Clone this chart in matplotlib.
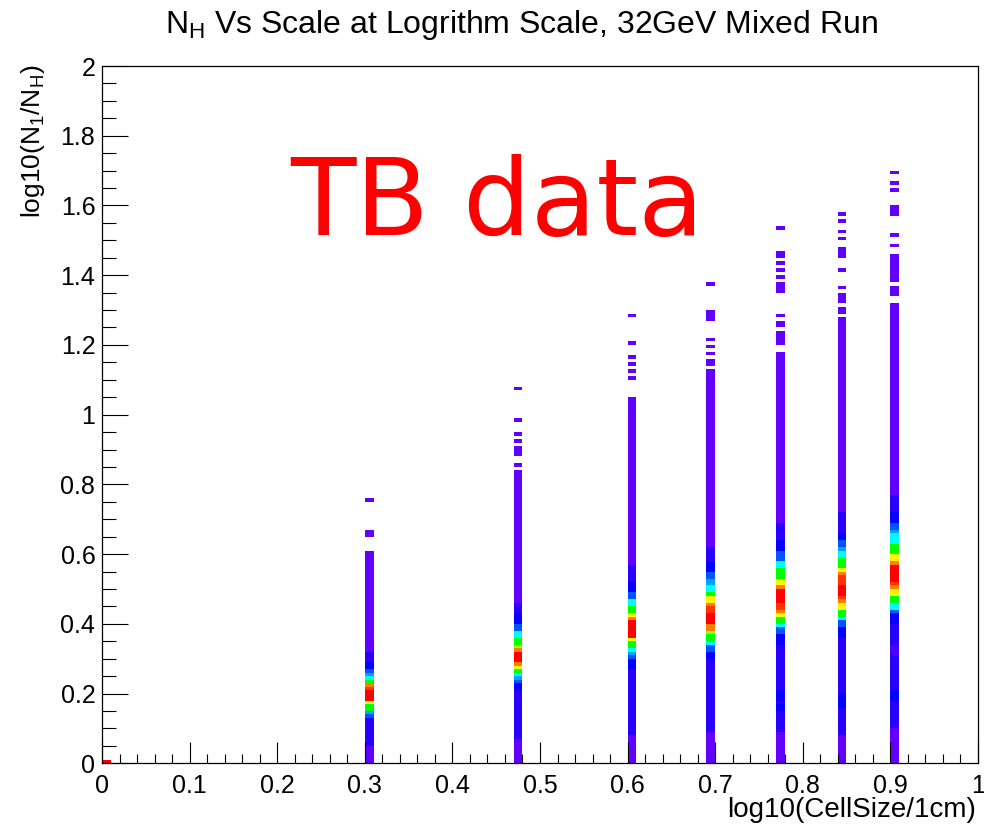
import colorsys
import numpy as np
import matplotlib
matplotlib.use("Agg")
import matplotlib.pyplot as plt
from matplotlib.colors import ListedColormap

plt.rcParams['font.family'] = ['Liberation Sans', 'DejaVu Sans']
plt.rcParams['mathtext.fontset'] = 'custom'
plt.rcParams['mathtext.rm'] = 'Liberation Sans'

# colour levels (percent of max bin content)
V, BV, B, A, S, C, G, YG, Y, O, RO, R = 1, 6, 9, 17, 24, 32, 55, 68, 78, 89, 95, 100

n_xbins, x_lo, x_hi = 100, 0.0, 1.0
n_ybins, y_lo, y_hi = 200, 0.0, 2.0

# x bin index of each filled column (log10 of cell size 2..8 cm) and its y runs (first bin, last bin, level)
col_bins = [30, 47, 60, 69, 77, 84, 90]

col_2cm = [(0, 4, V), (5, 12, BV), (13, 13, A), (14, 14, S), (15, 16, G), (17, 17, Y), (18, 20, R),
           (21, 21, RO), (22, 22, O), (23, 23, G), (24, 24, C), (25, 25, S), (26, 26, A), (27, 28, B),
           (29, 31, BV), (32, 60, V), (65, 66, V), (75, 75, V)]
col_3cm = [(0, 6, V), (7, 20, BV), (21, 22, B), (23, 23, A), (24, 24, S), (25, 25, C), (26, 26, G),
           (27, 27, Y), (28, 28, O), (29, 31, R), (32, 32, O), (33, 33, YG), (34, 35, G), (36, 37, C),
           (38, 39, A), (40, 42, B), (43, 45, BV), (46, 83, V), (85, 85, V), (88, 90, V), (92, 92, V),
           (94, 94, V), (98, 98, V), (107, 107, V)]
col_4cm = [(0, 7, V), (8, 26, BV), (27, 29, B), (30, 30, A), (31, 31, S), (32, 32, C), (33, 34, G),
           (35, 35, Y), (36, 40, R), (41, 41, O), (42, 42, Y), (43, 44, G), (45, 46, C), (47, 48, A),
           (49, 51, B), (52, 56, BV), (57, 104, V), (110, 110, V), (112, 112, V), (114, 114, V),
           (116, 116, V), (120, 120, V), (128, 128, V)]
col_5cm = [(0, 8, V), (9, 29, BV), (30, 31, B), (32, 33, A), (34, 34, C), (35, 36, G), (37, 37, YG),
           (38, 39, O), (40, 42, R), (43, 44, RO), (45, 45, O), (46, 47, Y), (48, 48, G), (49, 50, C),
           (51, 52, S), (53, 54, A), (55, 57, B), (58, 61, BV), (62, 112, V), (114, 115, V),
           (117, 117, V), (119, 119, V), (121, 121, V), (127, 129, V), (137, 137, V)]
col_6cm = [(0, 8, V), (9, 14, BV), (15, 16, B), (17, 17, BV), (18, 20, B), (21, 33, BV), (34, 36, B),
           (37, 38, A), (39, 39, C), (40, 41, G), (42, 42, Y), (43, 43, O), (44, 45, RO), (46, 49, R),
           (50, 50, O), (51, 52, Y), (53, 55, G), (56, 57, C), (58, 60, A), (61, 63, B), (64, 68, BV),
           (69, 117, V), (120, 123, V), (125, 126, V), (128, 128, V), (135, 137, V), (139, 139, V),
           (141, 141, V), (143, 143, V), (145, 146, V), (153, 153, V)]
col_7cm = [(0, 7, V), (8, 15, BV), (16, 19, B), (20, 35, BV), (36, 38, B), (39, 40, A), (41, 41, C),
           (42, 43, G), (44, 45, Y), (46, 46, O), (47, 47, RO), (48, 50, R), (51, 53, RO), (54, 54, O),
           (55, 55, Y), (56, 58, G), (59, 60, C), (61, 61, S), (62, 63, A), (64, 65, B), (66, 71, BV),
           (72, 127, V), (129, 130, V), (132, 134, V), (136, 136, V), (141, 141, V), (145, 147, V),
           (150, 150, V), (152, 152, V), (155, 155, V), (157, 157, V)]
col_8cm = [(0, 9, V), (10, 17, BV), (18, 20, B), (21, 30, BV), (31, 33, 3), (34, 39, BV), (40, 42, B),
           (43, 43, A), (44, 45, C), (46, 47, G), (48, 49, Y), (50, 50, O), (51, 51, RO), (52, 56, R),
           (57, 57, O), (58, 59, Y), (60, 62, G), (63, 65, C), (66, 66, S), (67, 68, A), (69, 71, B),
           (72, 76, BV), (77, 131, V), (134, 136, V), (138, 145, V), (148, 148, V), (151, 151, V),
           (157, 159, V), (164, 164, V), (166, 166, V), (169, 169, V)]
col_runs = [col_2cm, col_3cm, col_4cm, col_5cm, col_6cm, col_7cm, col_8cm]

# single-cell reference point at the origin
origin_bin = (0, 0, R)

H = np.zeros((n_ybins, n_xbins))
for xb, runs in zip(col_bins, col_runs):
    for y0, y1, z in runs:
        H[y0:y1 + 1, xb] = z
H[origin_bin[1], origin_bin[0]] = origin_bin[2]
H = np.ma.masked_equal(H, 0)

# ROOT "pretty" palette: HLS hue scan violet -> red
hues = np.linspace(265, 0, 256)
cmap = ListedColormap([colorsys.hls_to_rgb(h / 360.0, 0.5, 1.0) for h in hues])

xe = np.linspace(x_lo, x_hi, n_xbins + 1)
ye = np.linspace(y_lo, y_hi, n_ybins + 1)

fig = plt.figure(figsize=(9.84, 8.27), dpi=100)
ax = fig.add_axes([102.3 / 984, 63.7 / 827, 875.4 / 984, 697.3 / 827])
ax.pcolormesh(xe, ye, H, cmap=cmap, vmin=0, vmax=100, shading='flat')

ax.set_xlim(0, 1)
ax.set_ylim(0, 2)
ax.set_xticks(np.arange(0, 1.01, 0.1))
ax.set_xticks(np.arange(0, 1.001, 0.02), minor=True)
ax.set_yticks(np.arange(0, 2.01, 0.2))
ax.set_yticks(np.arange(0, 2.001, 0.05), minor=True)
ax.set_xticklabels(['0', '0.1', '0.2', '0.3', '0.4', '0.5', '0.6', '0.7', '0.8', '0.9', '1'])
ax.set_yticklabels(['0', '0.2', '0.4', '0.6', '0.8', '1', '1.2', '1.4', '1.6', '1.8', '2'])
ax.tick_params(axis='x', which='major', direction='in', length=15, width=0.8, labelsize=18, pad=8)
ax.tick_params(axis='x', which='minor', direction='in', length=6.7, width=0.8)
ax.tick_params(axis='y', which='major', direction='in', length=18.7, width=0.8, labelsize=18, pad=5)
ax.tick_params(axis='y', which='minor', direction='in', length=10.3, width=0.8)
for sp in ax.spines.values():
    sp.set_linewidth(0.9)

fig.text(0.53, 1 - 33 / 827, r'N$_{\mathrm{H}}$ Vs Scale at Logrithm Scale, 32GeV Mixed Run',
         ha='center', va='baseline', fontsize=23)
fig.text(33 / 984, 1 - 64 / 827, r'log10(N$_{\mathrm{1}}$/N$_{\mathrm{H}}$)', rotation=90,
         ha='center', va='top', fontsize=19)
fig.text(976 / 984, 1 - 817 / 827, 'log10(CellSize/1cm)', ha='right', va='baseline', fontsize=20)

fig.text(290 / 984, 1 - 235 / 827, 'TB data', color='red', fontsize=77,
         family='DejaVu Sans', ha='left', va='baseline')

fig.savefig('out.png', dpi=100)
